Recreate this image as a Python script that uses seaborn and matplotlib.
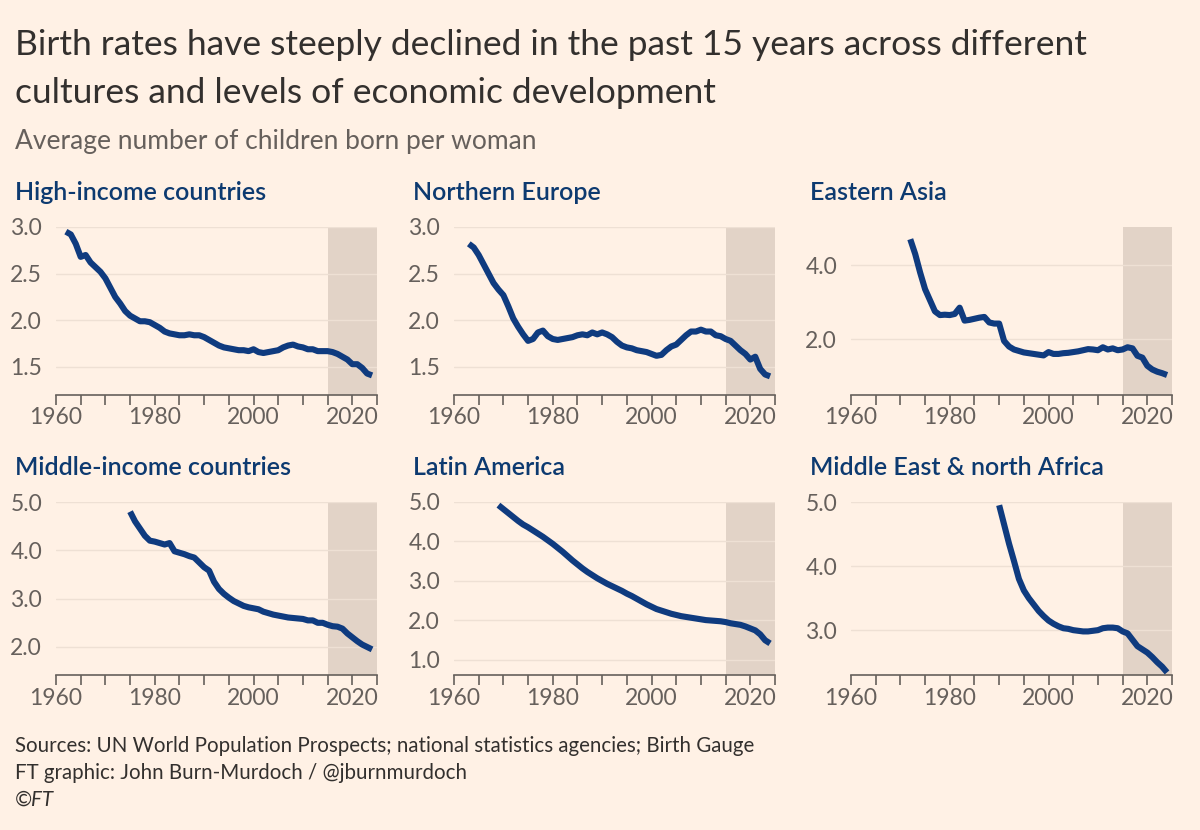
import numpy as np
import pandas as pd
import matplotlib
matplotlib.use("Agg")
import matplotlib.pyplot as plt
import seaborn as sns

sns.set_theme(style="white")
plt.rcParams['font.family'] = ['Lato', 'DejaVu Sans']

hi_start = 1962
hi_vals = [2.95,2.92,2.82,2.68,2.70,2.62,2.57,2.52,
           2.45,2.35,2.25,2.18,2.10,2.05,2.02,1.99,1.99,1.98,
           1.95,1.92,1.88,1.86,1.85,1.84,1.84,1.85,1.84,1.84,
           1.82,1.79,1.76,1.73,1.71,1.70,1.69,1.68,1.68,1.67,
           1.69,1.66,1.65,1.66,1.67,1.68,1.71,1.73,1.74,1.72,
           1.71,1.69,1.69,1.67,1.67,1.67,1.66,1.64,1.61,1.58,
           1.53,1.53,1.49,1.43,1.41]
ne_start = 1963
ne_vals = [2.82,2.78,2.70,2.60,2.50,2.40,2.33,
           2.27,2.15,2.02,1.93,1.85,1.78,1.80,1.87,1.89,1.83,
           1.80,1.79,1.80,1.81,1.82,1.84,1.85,1.84,1.87,1.85,
           1.87,1.85,1.82,1.77,1.73,1.71,1.70,1.68,1.67,1.66,
           1.64,1.62,1.63,1.68,1.72,1.74,1.79,1.84,1.88,1.88,
           1.90,1.88,1.88,1.84,1.83,1.80,1.78,1.73,1.68,1.64,
           1.58,1.61,1.48,1.42,1.40]
ea_start = 1972
ea_vals = [4.7,4.3,3.8,3.35,3.05,2.75,2.65,2.66,
           2.65,2.68,2.85,2.5,2.52,2.55,2.58,2.6,2.45,2.42,
           2.42,1.95,1.8,1.72,1.68,1.64,1.62,1.6,1.58,1.56,
           1.65,1.6,1.6,1.62,1.63,1.65,1.67,1.70,1.73,1.72,
           1.70,1.78,1.72,1.75,1.70,1.72,1.78,1.75,1.55,1.50,
           1.28,1.18,1.12,1.08,1.03]
mi_start = 1975
mi_vals = [4.8,4.6,4.45,4.3,4.2,
           4.18,4.15,4.12,4.15,3.98,3.95,3.92,3.88,3.85,3.75,
           3.65,3.58,3.35,3.2,3.1,3.02,2.95,2.9,2.85,2.82,
           2.8,2.78,2.73,2.7,2.67,2.65,2.63,2.61,2.6,2.59,
           2.58,2.55,2.55,2.5,2.5,2.46,2.43,2.42,2.38,2.28,
           2.2,2.12,2.05,2.0,1.95]
la_start = 1969
la_vals = [4.92,
           4.82,4.72,4.62,4.52,4.43,4.36,4.28,4.2,4.12,4.03,
           3.94,3.84,3.74,3.63,3.52,3.42,3.32,3.23,3.15,3.07,
           3.0,2.93,2.87,2.81,2.75,2.68,2.62,2.55,2.48,2.41,
           2.35,2.29,2.25,2.21,2.17,2.14,2.11,2.09,2.07,2.05,
           2.03,2.01,2.0,1.99,1.98,1.96,1.93,1.91,1.89,1.85,
           1.8,1.75,1.65,1.5,1.42]
me_start = 1990
me_vals = [4.95,4.65,4.35,4.08,3.8,3.62,3.5,3.4,3.3,3.22,
           3.15,3.1,3.06,3.03,3.02,3.0,2.99,2.98,2.98,2.99,
           3.0,3.03,3.04,3.04,3.03,2.98,2.95,2.85,2.75,2.7,
           2.65,2.58,2.5,2.43,2.34]

titles = ["High-income countries", "Northern Europe", "Eastern Asia",
          "Middle-income countries", "Latin America", "Middle East & north Africa"]
starts = [hi_start, ne_start, ea_start, mi_start, la_start, me_start]
series = [hi_vals, ne_vals, ea_vals, mi_vals, la_vals, me_vals]
yticks = [[1.5, 2.0, 2.5, 3.0], [1.5, 2.0, 2.5, 3.0], [2.0, 4.0],
          [2.0, 3.0, 4.0, 5.0], [1.0, 2.0, 3.0, 4.0, 5.0], [3.0, 4.0, 5.0]]
ylims = [(1.2, 3.0), (1.2, 3.0), (0.49, 5.03), (1.42, 5.0), (0.62, 5.0), (2.3, 5.0)]
xticklabels = [1960, 1980, 2000, 2020]
shade = (2015, 2025)

BG = "#FFF1E5"
NAVY = "#0F3B7F"
TXT = "#33302E"
GREY = "#66605C"

W, H = 1200, 830
fig = plt.figure(figsize=(12, 8.3), dpi=100, facecolor=BG)

lefts = [56, 454, 851]
rows = [(227, 395), (502, 675)]
for i in range(6):
    r, c = divmod(i, 3)
    top, bot = rows[r]
    ax = fig.add_axes([lefts[c] / W, 1 - bot / H, 321 / W, (bot - top) / H])
    ax.set_facecolor(BG)
    df = pd.DataFrame({"year": np.arange(starts[i], starts[i] + len(series[i])),
                       "value": series[i]})
    ax.axvspan(*shade, color="#E2D3C7", lw=0, zorder=0)
    for yv in yticks[i]:
        ax.axhline(yv, color="#EEE0D4", lw=1, zorder=0.5)
    sns.lineplot(data=df, x="year", y="value", ax=ax, color=NAVY, lw=4.4,
                 solid_capstyle="butt", zorder=3)
    ax.set_xlim(1960, 2025)
    ax.set_ylim(*ylims[i])
    ax.set_xticks(np.arange(1960, 2026, 5))
    ax.set_xticklabels([str(y) if y in xticklabels else "" for y in range(1960, 2026, 5)])
    ax.set_yticks(yticks[i])
    ax.set_yticklabels([f"{v:.1f}" for v in yticks[i]])
    ax.set_xlabel("")
    ax.set_ylabel("")
    for s in ["top", "right", "left"]:
        ax.spines[s].set_visible(False)
    ax.spines["bottom"].set_color(GREY)
    ax.spines["bottom"].set_linewidth(1.2)
    ax.tick_params(axis="x", length=7, width=1.2, color=GREY, labelsize=16.5,
                   labelcolor=GREY, pad=2, bottom=True)
    ax.tick_params(axis="y", length=0, labelsize=16.5, labelcolor=GREY, pad=10)
    fig.text((lefts[c] - 41) / W, 1 - (top - 35) / H, titles[i], fontsize=18,
             color="#0D3A70", fontweight="semibold", va="center", ha="left")

fig.text(15 / W, 1 - 45 / H, "Birth rates have steeply declined in the past 15 years across different",
         fontsize=25.5, color=TXT, va="center")
fig.text(15 / W, 1 - 93 / H, "cultures and levels of economic development",
         fontsize=25.5, color=TXT, va="center")
fig.text(15 / W, 1 - 142 / H, "Average number of children born per woman",
         fontsize=19, color=GREY, va="center")
fig.text(15 / W, 1 - 746 / H, "Sources: UN World Population Prospects; national statistics agencies; Birth Gauge",
         fontsize=14.8, color=TXT, va="center")
fig.text(15 / W, 1 - 773 / H, "FT graphic: John Burn-Murdoch / @jburnmurdoch",
         fontsize=14.8, color=TXT, va="center")
fig.text(15 / W, 1 - 800 / H, "©FT", fontsize=14.8, color=TXT, va="center", style="italic")

fig.savefig("out.png", dpi=100, facecolor=BG)
